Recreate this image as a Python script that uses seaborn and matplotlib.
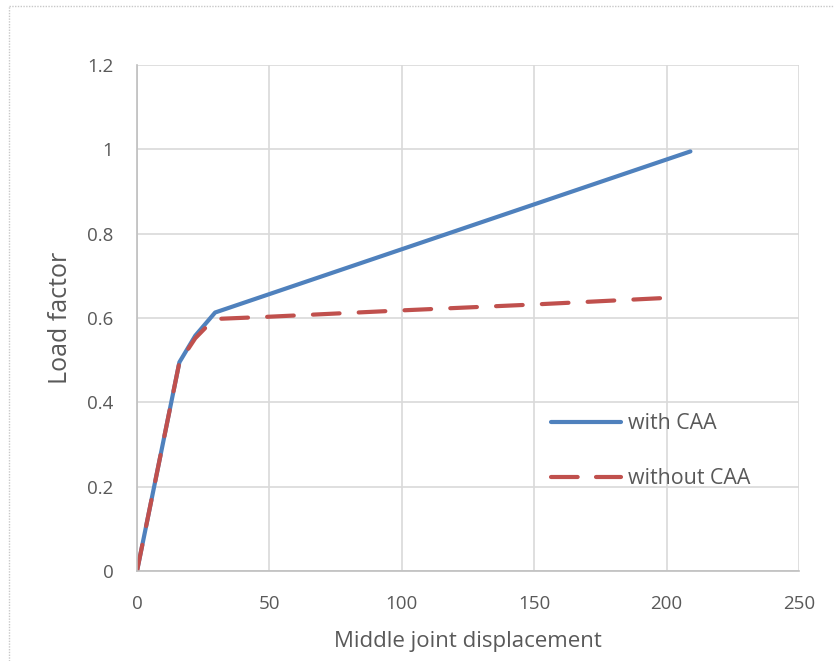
import matplotlib
matplotlib.use("Agg")
import matplotlib.pyplot as plt
import seaborn as sns
import pandas as pd
from matplotlib.lines import Line2D

# Load-displacement response of the middle joint
with_caa_disp = [0, 16, 22, 29.5, 209]
with_caa_load = [0, 0.495, 0.558, 0.613, 0.995]

without_caa_disp = [0, 16, 22, 26.5, 31, 50, 100, 150, 198]
without_caa_load = [0, 0.495, 0.552, 0.581, 0.598, 0.603, 0.618, 0.632, 0.647]

series_names = ["with CAA", "without CAA"]
series_colors = ["#4f81bd", "#c0504d"]

x_ticks = [0, 50, 100, 150, 200, 250]
y_ticks = [0, 0.2, 0.4, 0.6, 0.8, 1.0, 1.2]
y_tick_labels = ["0", "0.2", "0.4", "0.6", "0.8", "1", "1.2"]

df = pd.concat([
    pd.DataFrame({"disp": with_caa_disp, "load": with_caa_load, "series": series_names[0]}),
    pd.DataFrame({"disp": without_caa_disp, "load": without_caa_load, "series": series_names[1]}),
], ignore_index=True)

sns.set_theme(style="white")
plt.rcParams["font.family"] = ["Open Sans", "DejaVu Sans"]
text_color = "#595959"
line_w = 3.0
dash_pattern = (6.4, 4.6)

fig = plt.figure(figsize=(8.34, 6.61), dpi=100)
ax = fig.add_axes([0.1643, 0.1362, 0.7937, 0.7655])

sns.lineplot(data=df, x="disp", y="load", hue="series", style="series",
             palette=dict(zip(series_names, series_colors)),
             dashes={series_names[0]: "", series_names[1]: dash_pattern},
             linewidth=line_w, sort=False, estimator=None, legend=False, ax=ax)
for ln in ax.lines:
    ln.set_dash_capstyle("round")
    ln.set_solid_capstyle("round")
    ln.set_solid_joinstyle("round")

ax.set_xlim(0, 250)
ax.set_ylim(0, 1.2)
ax.set_xticks(x_ticks)
ax.set_yticks(y_ticks)
ax.set_yticklabels(y_tick_labels)
ax.grid(True, color="#d9d9d9", linewidth=1.2)
ax.set_axisbelow(True)
for side in ["top", "right"]:
    ax.spines[side].set_visible(False)
for side in ["left", "bottom"]:
    ax.spines[side].set_color("#bfbfbf")
    ax.spines[side].set_linewidth(1.2)
ax.tick_params(axis="both", length=0, labelsize=13.5, labelcolor=text_color)
ax.tick_params(axis="x", pad=17)
ax.tick_params(axis="y", pad=17)

ax.set_xlabel("Middle joint displacement", fontsize=16, color=text_color)
ax.set_ylabel("Load factor", fontsize=18, color=text_color)
ax.xaxis.set_label_coords(0.5, -0.118)
ax.yaxis.set_label_coords(-0.097, 0.5)

handles = [
    Line2D([0], [0], color=series_colors[0], linewidth=line_w, solid_capstyle="round"),
    Line2D([0], [0], color=series_colors[1], linewidth=line_w, dashes=(6.4, 4.4),
           dash_capstyle="round"),
]
leg = ax.legend(handles, series_names, loc="upper left", bbox_to_anchor=(0.613, 0.329),
                frameon=False, fontsize=15.4, handlelength=3.27, handletextpad=0.33,
                labelspacing=1.61, borderaxespad=0)
for t in leg.get_texts():
    t.set_color(text_color)

# dotted outline of the chart area
fig.add_artist(Line2D([0.011, 0.011], [0.0, 0.991], transform=fig.transFigure,
                      color="#c8c8c8", linewidth=1, linestyle=(0, (1, 1))))
fig.add_artist(Line2D([0.011, 1.0], [0.991, 0.991], transform=fig.transFigure,
                      color="#c8c8c8", linewidth=1, linestyle=(0, (1, 1))))

fig.savefig("out.png", dpi=100)
